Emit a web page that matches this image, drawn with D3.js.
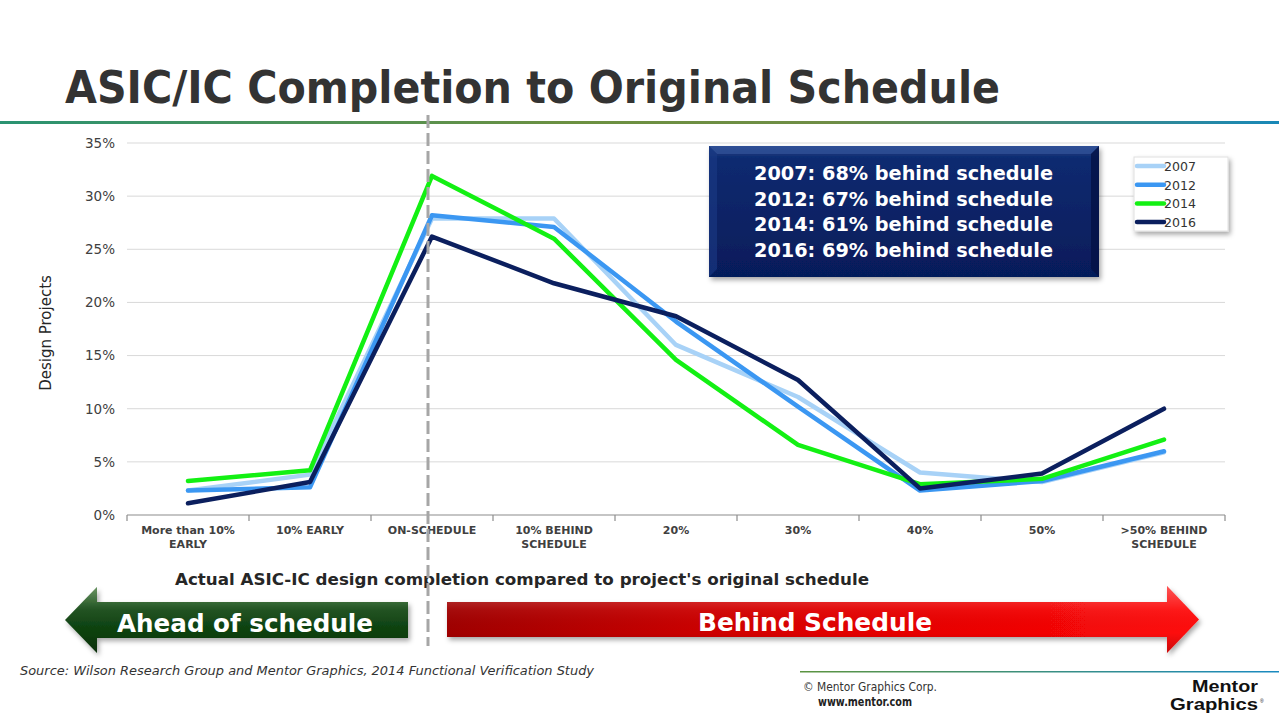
<!DOCTYPE html>
<html>
<head>
<meta charset="utf-8">
<script src="https://cdn.jsdelivr.net/npm/d3@7"></script>
<style>
  html,body{margin:0;padding:0;background:#fff;}
  svg{display:block;}
</style>
</head>
<body>
<script>
// ---------- DATA ----------
const categories = ["More than 10%|EARLY","10% EARLY","ON-SCHEDULE","10% BEHIND|SCHEDULE","20%","30%","40%","50%",">50% BEHIND|SCHEDULE"];
const years = ["2007","2012","2014","2016"];
const values2007 = [2.3, 3.8, 27.9, 27.9, 16.0, 11.1, 4.0, 3.1, 5.9];
const values2012 = [2.3, 2.6, 28.2, 27.1, 18.2, 10.2, 2.3, 3.2, 6.0];
const values2014 = [3.2, 4.2, 31.9, 26.0, 14.6, 6.6, 2.9, 3.4, 7.1];
const values2016 = [1.1, 3.1, 26.2, 21.8, 18.7, 12.7, 2.5, 3.9, 10.0];
const yTicks = [0, 5, 10, 15, 20, 25, 30, 35];
const summaryLines = ["2007: 68% behind schedule","2012: 67% behind schedule","2014: 61% behind schedule","2016: 69% behind schedule"];
const colors = ["#a8d2f7","#3b97f2","#13f013","#0b1f5e"];

const seriesList = [values2007, values2012, values2014, values2016];

// ---------- SVG ----------
const W = 1279, H = 720;
const svg = d3.select("body").append("svg").attr("width", W).attr("height", H);
const defs = svg.append("defs");

function linGrad(id, stops, x1="0",y1="0",x2="1",y2="0"){
  const g = defs.append("linearGradient").attr("id", id).attr("x1",x1).attr("y1",y1).attr("x2",x2).attr("y2",y2);
  stops.forEach(s => g.append("stop").attr("offset", s[0]).attr("stop-color", s[1]));
}
linGrad("topLine", [["0","#2a9372"],["0.45","#6c9040"],["0.65","#6f8d45"],["1","#1888b8"]]);
linGrad("footLine", [["0","#5c9440"],["1","#1a8ac0"]]);
linGrad("boxGrad", [["0","#1e3f85"],["0.1","#0d2a70"],["1","#061c5a"]], "0","0","0","1");
linGrad("greenArrow", [["0","#2a6420"],["0.3","#154c16"],["1","#0a380b"]], "0","0","0","1");
linGrad("redArrowH", [["0","#a00404"],["0.5","#e00000"],["1","#ff0a0a"]]);
linGrad("arrowShine", [["0","rgba(255,255,255,0.3)"],["0.35","rgba(255,255,255,0.05)"],["0.7","rgba(0,0,0,0)"],["1","rgba(0,0,0,0.2)"]], "0","0","0","1");
const shadow = defs.append("filter").attr("id","shadow").attr("x","-10%").attr("y","-10%").attr("width","130%").attr("height","140%");
shadow.append("feDropShadow").attr("dx",2).attr("dy",3).attr("stdDeviation",2.5).attr("flood-color","#000").attr("flood-opacity",0.35);

// ---------- TITLE ----------
svg.append("text").attr("x", 65).attr("y", 103)
  .attr("font-family","DejaVu Sans, Verdana, sans-serif").attr("font-weight","bold")
  .attr("font-size", 44).attr("fill","#333333")
  .attr("textLength", 935).attr("lengthAdjust","spacingAndGlyphs")
  .text("ASIC/IC Completion to Original Schedule");
svg.append("rect").attr("x",0).attr("y",121).attr("width",W).attr("height",3).attr("fill","url(#topLine)");

// ---------- SCALES ----------
const plot = {left:127, right:1225, top:143, bottom:515};
const x = d3.scaleBand().domain(categories).range([plot.left, plot.right]);
const y = d3.scaleLinear().domain([0,35]).range([plot.bottom, plot.top]);

// gridlines
svg.append("g").selectAll("line").data(yTicks.filter(d=>d>0)).join("line")
  .attr("x1", plot.left).attr("x2", plot.right)
  .attr("y1", d=>y(d)).attr("y2", d=>y(d))
  .attr("stroke","#d9d9d9").attr("stroke-width",1);

// y axis labels
const yAxis = d3.axisLeft(y).tickValues(yTicks).tickFormat(d=>d+"%").tickSize(0).tickPadding(12);
const yg = svg.append("g").attr("transform",`translate(${plot.left},0)`).call(yAxis);
yg.select(".domain").remove();
yg.selectAll("text").attr("font-family","DejaVu Sans, Verdana, sans-serif").attr("font-size",13.5).attr("fill","#404040");

// x axis
const xAxis = d3.axisBottom(x).tickSize(0).tickFormat("");
const xg = svg.append("g").attr("transform",`translate(0,${plot.bottom})`).call(xAxis);
xg.select(".domain").attr("stroke","#8c8c8c").attr("stroke-width",1.2).attr("d",`M${plot.left},0H${plot.right}`);
const boundaries = categories.map(c=>x(c)).concat([plot.right]);
svg.append("g").selectAll("line").data(boundaries).join("line")
  .attr("x1",d=>d).attr("x2",d=>d).attr("y1",plot.bottom).attr("y2",plot.bottom+6)
  .attr("stroke","#8c8c8c").attr("stroke-width",1.2);
const xl = svg.append("g").selectAll("text").data(categories).join("text")
  .attr("x", d=>x(d)+x.bandwidth()/2).attr("y", plot.bottom+19)
  .attr("text-anchor","middle").attr("font-family","DejaVu Sans, Verdana, sans-serif")
  .attr("font-weight","bold").attr("font-size",11).attr("fill","#404040");
xl.each(function(d){
  const parts = d.split("|");
  const t = d3.select(this);
  parts.forEach((p,i)=> t.append("tspan").attr("x", x(d)+x.bandwidth()/2).attr("dy", i===0?0:14).text(p));
});

// y axis title
svg.append("text").attr("transform","translate(51,333) rotate(-90)")
  .attr("text-anchor","middle").attr("font-family","DejaVu Sans, Verdana, sans-serif")
  .attr("font-size",15).attr("fill","#262626").text("Design Projects");

// x axis title
svg.append("text").attr("x",522).attr("y",585).attr("text-anchor","middle")
  .attr("font-family","DejaVu Sans, Verdana, sans-serif").attr("font-weight","bold")
  .attr("font-size",16).attr("fill","#262626")
  .attr("textLength",694).attr("lengthAdjust","spacingAndGlyphs")
  .text("Actual ASIC-IC design completion compared to project's original schedule");

// ---------- LINES ----------
const line = d3.line().x((d,i)=>x(categories[i])+x.bandwidth()/2).y(d=>y(d));
svg.append("g").selectAll("path").data(seriesList).join("path")
  .attr("d", d=>line(d)).attr("fill","none")
  .attr("stroke",(d,i)=>colors[i]).attr("stroke-width",4.5)
  .attr("stroke-linejoin","round").attr("stroke-linecap","round");

// ---------- DASHED ON-SCHEDULE LINE ----------
svg.append("line").attr("x1",428).attr("x2",428).attr("y1",115).attr("y2",646)
  .attr("stroke","#a6a6a6").attr("stroke-width",3).attr("stroke-dasharray","13,5");

// ---------- SUMMARY BOX ----------
const box = {x:709,y:146,w:390,h:131};
svg.append("rect").attr("x",box.x).attr("y",box.y).attr("width",box.w).attr("height",box.h)
  .attr("fill","url(#boxGrad)").attr("filter","url(#shadow)");
svg.append("path").attr("d",`M${box.x},${box.y}L${box.x+box.w},${box.y}L${box.x+box.w-8},${box.y+8}L${box.x+8},${box.y+8}Z`).attr("fill","#3a5aa0").attr("opacity",0.6);
svg.append("path").attr("d",`M${box.x},${box.y}L${box.x+8},${box.y+8}L${box.x+8},${box.y+box.h-8}L${box.x},${box.y+box.h}Z`).attr("fill","#1b3a86").attr("opacity",0.6);
svg.append("path").attr("d",`M${box.x+box.w},${box.y}L${box.x+box.w-8},${box.y+8}L${box.x+box.w-8},${box.y+box.h-8}L${box.x+box.w},${box.y+box.h}Z`).attr("fill","#041245").attr("opacity",0.8);
svg.append("g").selectAll("text").data(summaryLines).join("text")
  .attr("x",754).attr("y",(d,i)=>180+i*25.7)
  .attr("font-family","DejaVu Sans, Verdana, sans-serif").attr("font-weight","bold")
  .attr("font-size",20).attr("fill","#ffffff")
  .attr("textLength",299).attr("lengthAdjust","spacingAndGlyphs")
  .text(d=>d);

// ---------- LEGEND ----------
const lg = svg.append("g");
lg.append("rect").attr("x",1134).attr("y",157).attr("width",94).attr("height",74)
  .attr("fill","#fff").attr("stroke","#e0e0e0").attr("filter","url(#shadow)");
years.forEach((yr,i)=>{
  const yy = 166 + i*18.7;
  lg.append("line").attr("x1",1137).attr("x2",1164).attr("y1",yy).attr("y2",yy)
    .attr("stroke",colors[i]).attr("stroke-width",4.5).attr("stroke-linecap","round");
  lg.append("text").attr("x",1164).attr("y",yy+5).attr("font-family","DejaVu Sans, Verdana, sans-serif")
    .attr("font-size",13).attr("fill","#333").attr("textLength",32).attr("lengthAdjust","spacingAndGlyphs").text(yr);
});

// ---------- ARROWS ----------
const gA = {tip:65, base:97, end:408, top:602, bot:638, htop:587, hbot:653};
const gPath = `M${gA.tip},${(gA.top+gA.bot)/2}L${gA.base},${gA.htop}L${gA.base},${gA.top}L${gA.end},${gA.top}L${gA.end},${gA.bot}L${gA.base},${gA.bot}L${gA.base},${gA.hbot}Z`;
svg.append("path").attr("d",gPath).attr("fill","url(#greenArrow)").attr("filter","url(#shadow)");
svg.append("path").attr("d",gPath).attr("fill","url(#arrowShine)");
svg.append("text").attr("x",245).attr("y",632).attr("text-anchor","middle")
  .attr("font-family","DejaVu Sans, Verdana, sans-serif").attr("font-weight","bold")
  .attr("font-size",25).attr("fill","#fff").attr("textLength",256).attr("lengthAdjust","spacingAndGlyphs")
  .text("Ahead of schedule");
const rA = {start:447, base:1167, tip:1199, top:602, bot:637, htop:586, hbot:653};
const rPath = `M${rA.start},${rA.top}L${rA.base},${rA.top}L${rA.base},${rA.htop}L${rA.tip},${(rA.top+rA.bot)/2}L${rA.base},${rA.hbot}L${rA.base},${rA.bot}L${rA.start},${rA.bot}Z`;
svg.append("path").attr("d",rPath).attr("fill","url(#redArrowH)").attr("filter","url(#shadow)");
svg.append("path").attr("d",rPath).attr("fill","url(#arrowShine)");
svg.append("text").attr("x",815).attr("y",631).attr("text-anchor","middle")
  .attr("font-family","DejaVu Sans, Verdana, sans-serif").attr("font-weight","bold")
  .attr("font-size",25).attr("fill","#fff").attr("textLength",234).attr("lengthAdjust","spacingAndGlyphs")
  .text("Behind Schedule");

// ---------- FOOTER ----------
svg.append("text").attr("x",20).attr("y",675)
  .attr("font-family","DejaVu Sans, Verdana, sans-serif").attr("font-style","italic")
  .attr("font-size",13).attr("fill","#333").attr("textLength",574).attr("lengthAdjust","spacingAndGlyphs")
  .text("Source: Wilson Research Group and Mentor Graphics, 2014 Functional Verification  Study");
svg.append("rect").attr("x",800).attr("y",671).attr("width",479).attr("height",1.5).attr("fill","url(#footLine)");
svg.append("text").attr("x",803).attr("y",691).attr("font-family","DejaVu Sans, Verdana, sans-serif")
  .attr("font-size",12).attr("fill","#333").attr("textLength",134).attr("lengthAdjust","spacingAndGlyphs")
  .text("© Mentor Graphics Corp.");
svg.append("text").attr("x",818).attr("y",706).attr("font-family","DejaVu Sans, Verdana, sans-serif")
  .attr("font-weight","bold").attr("font-size",12).attr("fill","#222").attr("textLength",94).attr("lengthAdjust","spacingAndGlyphs")
  .text("www.mentor.com");
// logo text
svg.append("text").attr("x",1192).attr("y",692).attr("font-family","Liberation Sans, Arial, sans-serif")
  .attr("font-weight","bold").attr("font-size",17).attr("fill","#111").attr("textLength",66).attr("lengthAdjust","spacingAndGlyphs")
  .text("Mentor");
svg.append("text").attr("x",1170).attr("y",710).attr("font-family","Liberation Sans, Arial, sans-serif")
  .attr("font-weight","bold").attr("font-size",17).attr("fill","#111").attr("textLength",88).attr("lengthAdjust","spacingAndGlyphs")
  .text("Graphics");
svg.append("text").attr("x",1260).attr("y",703).attr("font-family","Liberation Sans, Arial, sans-serif")
  .attr("font-size",5).attr("fill","#111").text("®");
</script>
</body>
</html>
